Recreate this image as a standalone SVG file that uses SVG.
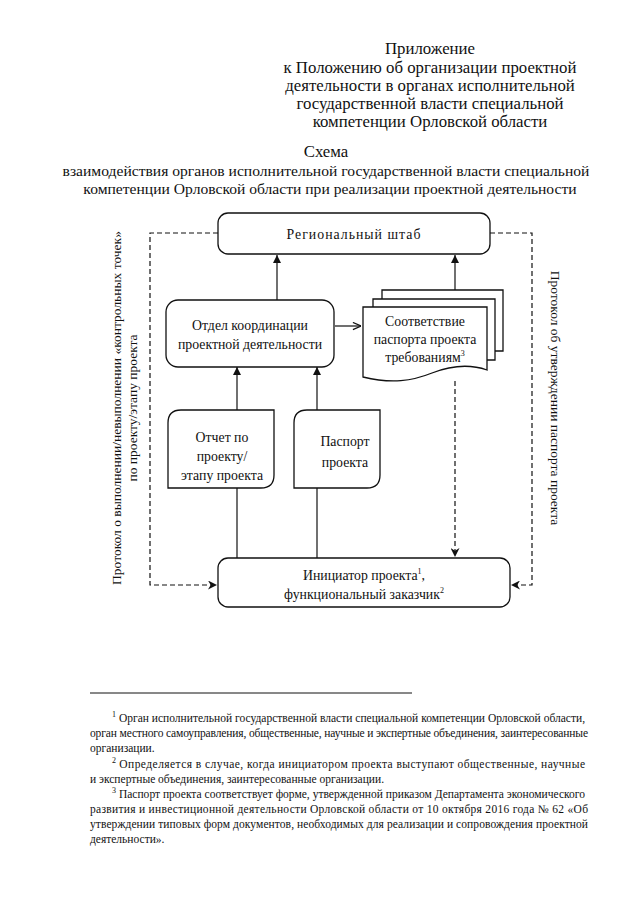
<svg xmlns="http://www.w3.org/2000/svg" width="640" height="905" viewBox="0 0 640 905">
<style>
  text { font-family: "Liberation Serif", "Times New Roman", "DejaVu Serif", serif; fill: #111; }
  .hdr { font-size: 16.8px; text-anchor: middle; }
  .ttl { font-size: 15.6px; text-anchor: middle; }
  .lbl { font-size: 13.8px; text-anchor: middle; }
  .side { font-size: 13.5px; text-anchor: middle; }
  .fn { font-size: 11.5px; }
  .box { fill: #fff; stroke: #111; stroke-width: 1.3; }
  .ln { fill: none; stroke: #111; stroke-width: 1.2; }
  .dash { fill: none; stroke: #111; stroke-width: 1.2; stroke-dasharray: 5 3; }
  .sup { font-size: 8px; }
</style>
<defs>
  <marker id="solid" viewBox="0 0 10 10" refX="10" refY="5" markerWidth="8" markerHeight="8" markerUnits="userSpaceOnUse" orient="auto">
    <path d="M0,0 L10,5 L0,10 Z" fill="#111"/>
  </marker>
  <marker id="chev" viewBox="0 0 10 10" refX="10" refY="5" markerWidth="9" markerHeight="9" markerUnits="userSpaceOnUse" orient="auto">
    <path d="M0,0 L10,5 L0,10 L3,5 Z" fill="#111"/>
  </marker>
  <marker id="open" viewBox="0 0 10 10" refX="10" refY="5" markerWidth="9" markerHeight="9" markerUnits="userSpaceOnUse" orient="auto">
    <path d="M1,1 L10,5 L1,9" fill="none" stroke="#111" stroke-width="1.3"/>
  </marker>
</defs>

<g id="header">
  <text class="hdr" x="430" y="54">Приложение</text>
  <text class="hdr" x="430" y="73">к Положению об организации проектной</text>
  <text class="hdr" x="430" y="91">деятельности в органах исполнительной</text>
  <text class="hdr" x="430" y="109">государственной власти специальной</text>
  <text class="hdr" x="430" y="127">компетенции Орловской области</text>
</g>

<g id="title">
  <text class="hdr" x="326" y="157">Схема</text>
  <text class="ttl" x="326" y="176">взаимодействия органов исполнительной государственной власти специальной</text>
  <text class="ttl" x="330" y="194">компетенции Орловской области при реализации проектной деятельности</text>
</g>

<g id="connectors">
  <line class="ln" x1="277" y1="300" x2="277" y2="255" marker-end="url(#solid)"/>
  <line class="ln" x1="455" y1="290" x2="455" y2="255" marker-end="url(#solid)"/>
  <line class="ln" x1="335" y1="326" x2="361" y2="326" marker-end="url(#open)"/>
  <line class="ln" x1="237" y1="558" x2="237" y2="367" marker-end="url(#solid)"/>
  <line class="ln" x1="317" y1="558" x2="317" y2="367" marker-end="url(#solid)"/>
  <line class="dash" x1="455" y1="381" x2="455" y2="557" marker-end="url(#chev)"/>
  <polyline class="dash" points="218,233 150,233 150,585 217,585" marker-end="url(#chev)"/>
  <polyline class="dash" points="490,233 532,233 532,585 511,585" marker-end="url(#chev)"/>
</g>

<g id="regional-hq">
  <rect class="box" x="218" y="213" width="272" height="41" rx="10"/>
  <text class="lbl" x="354" y="239" letter-spacing="1">Региональный штаб</text>
</g>

<g id="coordination-dept">
  <rect class="box" x="166" y="300" width="168" height="67" rx="12"/>
  <text class="lbl" x="250" y="330">Отдел координации</text>
  <text class="lbl" x="250" y="349">проектной деятельности</text>
</g>

<g id="compliance-docs">
  <path class="box" d="M382,290 H503 V351 H382 Z"/>
  <path class="box" d="M373,299 H495 V360 H373 Z"/>
  <path class="box" d="M363,307 H487 V370 C470,364 450,366 432,373 C412,381 392,384 363,377 Z"/>
  <text class="lbl" x="425" y="326">Соответствие</text>
  <text class="lbl" x="425" y="344">паспорта проекта</text>
  <text class="lbl" x="425" y="362">требованиям<tspan class="sup" dy="-6">3</tspan></text>
</g>

<g id="project-report">
  <path class="box" d="M181,410 H274 V475 Q274,488 261,488 H168 V423 Q168,410 181,410 Z"/>
  <text class="lbl" x="222" y="442">Отчет по</text>
  <text class="lbl" x="222" y="461">проекту/</text>
  <text class="lbl" x="222" y="480">этапу проекта</text>
</g>

<g id="project-passport">
  <path class="box" d="M307,410 H380 V475 Q380,488 367,488 H294 V423 Q294,410 307,410 Z"/>
  <text class="lbl" x="345" y="446">Паспорт</text>
  <text class="lbl" x="345" y="467">проекта</text>
</g>

<g id="initiator">
  <rect class="box" x="218" y="558" width="292" height="49" rx="10"/>
  <text class="lbl" x="364" y="580" font-size="14.2">Инициатор проекта<tspan class="sup" dy="-6">1</tspan><tspan dy="6">,</tspan></text>
  <text class="lbl" x="364" y="599" font-size="14.2">функциональный заказчик<tspan class="sup" dy="-6">2</tspan></text>
</g>

<g id="side-labels">
  <text class="side" transform="translate(121,408) rotate(-90)">Протокол о выполнении/невыполнении «контрольных точек»</text>
  <text class="side" transform="translate(137,408) rotate(-90)">по проекту/этапу проекта</text>
  <text class="side" transform="translate(551,398) rotate(90)">Протокол об утверждении паспорта проекта</text>
</g>

<g id="footnotes">
  <line x1="90" y1="693" x2="412" y2="693" stroke="#111" stroke-width="1"/>
  <text class="fn" x="112" y="722"><tspan class="sup" dy="-5">1</tspan><tspan dy="5" textLength="469"> Орган исполнительной государственной власти специальной компетенции Орловской области,</tspan></text>
  <text class="fn" x="90" y="737" textLength="498" lengthAdjust="spacing">орган местного самоуправления, общественные, научные и экспертные объединения, заинтересованные</text>
  <text class="fn" x="90" y="752">организации.</text>
  <text class="fn" x="112" y="768"><tspan class="sup" dy="-5">2</tspan><tspan dy="5" textLength="469"> Определяется в случае, когда инициатором проекта выступают общественные, научные</tspan></text>
  <text class="fn" x="90" y="783">и экспертные объединения, заинтересованные организации.</text>
  <text class="fn" x="112" y="798"><tspan class="sup" dy="-5">3</tspan><tspan dy="5" textLength="469"> Паспорт проекта соответствует форме, утвержденной приказом Департамента экономического</tspan></text>
  <text class="fn" x="90" y="813" textLength="498" lengthAdjust="spacing">развития и инвестиционной деятельности Орловской области от 10 октября 2016 года № 62 «Об</text>
  <text class="fn" x="90" y="828" textLength="498" lengthAdjust="spacing">утверждении типовых форм документов, необходимых для реализации и сопровождения проектной</text>
  <text class="fn" x="90" y="843">деятельности».</text>
</g>
</svg>
